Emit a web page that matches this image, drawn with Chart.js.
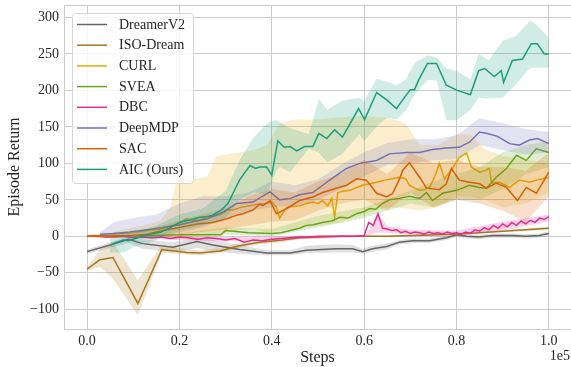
<!DOCTYPE html>
<html><head><meta charset="utf-8">
<script src="https://cdn.jsdelivr.net/npm/chart.js@4/dist/chart.umd.min.js"></script>
<style>html,body{margin:0;padding:0;background:#fff;} canvas{display:block;}</style>
</head><body>
<canvas id="c" width="571" height="367"></canvas>
<script>
const xTicks = [0, 0.2, 0.4, 0.6, 0.8, 1.0];
const yTicks = [-100, -50, 0, 50, 100, 150, 200, 250, 300];

const seriesNames = ['DreamerV2', 'ISO-Dream', 'CURL', 'SVEA', 'DBC', 'DeepMDP', 'SAC', 'AIC (Ours)'];
const seriesColors = ['#666666', '#a6761d', '#e6ab02', '#66a61e', '#e7298a', '#7570b3', '#d95f02', '#1b9e77'];

// DreamerV2
const dreamerSteps = [0,0.05,0.09,0.12,0.186,0.238,0.272,0.33,0.389,0.44,0.475,0.54,0.575,0.597,0.618,0.649,0.677,0.705,0.742,0.778,0.80,0.822,0.85,0.878,0.921,0.951,0.979,1.0];
const dreamerReturn = [-21,-12,-4,-10,-15,-7,-12,-18,-23,-23,-19,-17,-17,-21,-17,-14,-8,-6,-6,-2,2,0,-1,1,1,0,1,4];
const dreamerLow = [-24,-16,-9,-17,-22,-16,-20,-24,-26,-26,-23,-22,-22,-24,-21,-18,-11,-9,-9,-5,-1,-3,-4,-2,-2,-3,-2,0];
const dreamerHigh = [-18,-8,0,-4,-8,-2,-5,-12,-19,-19,-13,-11,-12,-17,-13,-10,-5,-3,-3,1,5,3,2,4,4,3,4,7];

// ISO-Dream
const isoSteps = [0,0.028,0.056,0.11,0.162,0.216,0.244,0.288,0.33,0.374,0.424,0.46,0.504,0.55,0.65,0.8,1.0];
const isoReturn = [-45,-32,-29,-92,-18,-22,-23,-20,-13,-8,-5,-2,-1,0,0,3,11];
const isoLow = [-47,-42,-58,-108,-22,-25,-26,-23,-16,-11,-8,-4,-3,-1,-1,2,9];
const isoHigh = [-43,-18,-8,-60,-12,-18,-19,-16,-9,-5,-2,1,1,1,1,4,13];

// CURL
const curlSteps = [0,0.05,0.1,0.13,0.16,0.18,0.2,0.215,0.23,0.244,0.26,0.272,0.29,0.303,0.316,0.335,0.352,0.37,0.389,0.4,0.41,0.417,0.432,0.446,0.46,0.475,0.489,0.5,0.51,0.521,0.53,0.536,0.543,0.556,0.569,0.584,0.597,0.612,0.627,0.645,0.662,0.677,0.69,0.698,0.71,0.72,0.73,0.742,0.755,0.763,0.774,0.785,0.791,0.806,0.822,0.832,0.85,0.862,0.871,0.876,0.893,0.915,0.936,0.958,0.979,1.0];
const curlReturn = [0,2,5,8,10,14,18,24,22,22,27,27,30,36,36,40,42,44,45,47,40,25,40,41,42,45,47,45,49,42,52,26,60,62,63,67,70,72,74,77,79,81,79,70,66,63,64,67,85,100,79,88,93,108,114,95,88,90,93,73,74,67,77,74,78,81];
const curlBandSteps = [0,0.05,0.1,0.13,0.16,0.18,0.195,0.23,0.26,0.28,0.3,0.33,0.36,0.39,0.417,0.45,0.5,0.54,0.6,0.65,0.69,0.72,0.76,0.8,0.83,0.86,0.9,0.95,1.0];
const curlLow = [-2,0,0,0,0,-3,-5,-2,0,3,5,8,10,5,8,10,15,18,30,40,38,35,40,55,55,50,40,45,60];
const curlHigh = [2,5,12,16,22,40,80,78,82,110,112,115,118,125,155,160,160,163,165,163,155,125,125,140,140,120,110,105,100];

// SVEA
const sveaSteps = [0,0.05,0.1,0.15,0.2,0.25,0.29,0.3,0.35,0.4,0.42,0.44,0.46,0.475,0.49,0.51,0.53,0.547,0.565,0.584,0.6,0.612,0.625,0.64,0.655,0.677,0.698,0.72,0.735,0.748,0.77,0.8,0.828,0.85,0.865,0.886,0.908,0.93,0.951,0.973,1.0];
const sveaReturn = [0,0,1,1,2,2,2,8,5,4,5,8,11,15,16,19,21,26,25,31,34,38,37,45,50,52,55,52,60,49,59,63,70,67,66,81,93,111,104,120,115];
const sveaBandSteps = [0,0.2,0.3,0.4,0.5,0.6,0.7,0.75,0.8,0.85,0.9,0.95,1.0];
const sveaLow = [-1,0,2,0,12,25,45,40,50,50,65,85,95];
const sveaHigh = [1,4,12,10,28,40,62,75,85,95,115,125,130];

// DBC
const dbcSteps = [0,0.02,0.04,0.06,0.08,0.1,0.12,0.14,0.16,0.18,0.2,0.22,0.24,0.26,0.28,0.3,0.32,0.34,0.36,0.38,0.4,0.42,0.44,0.46,0.48,0.5,0.52,0.54,0.56,0.58,0.6,0.61,0.62,0.63,0.64,0.65,0.66,0.67,0.68,0.69,0.7,0.71,0.72,0.73,0.74,0.75,0.76,0.77,0.78,0.79,0.8,0.81,0.82,0.83,0.84,0.85,0.86,0.87,0.88,0.89,0.9,0.91,0.92,0.93,0.94,0.95,0.96,0.97,0.98,0.99,1.0];
const dbcReturn = [0,0,-1,-1,0,-2,-1,-2,-1,-3,-1,-2,-4,-2,-3,-5,-3,-8,-5,-6,-4,-3,-2,-1,-1,0,0,0,0,0,1,19,15,31,11,10,8,9,5,7,4,6,5,3,6,4,5,3,6,4,5,3,6,4,9,7,12,9,15,11,17,13,19,15,21,17,22,19,25,23,27];
const dbcBandSteps = [0,0.3,0.6,0.605,0.63,0.65,0.7,0.8,0.9,1.0];
const dbcLow = [-1,-7,-1,0,5,5,2,2,8,20];
const dbcHigh = [1,-1,1,3,30,14,9,8,20,30];

// DeepMDP
const deepSteps = [0.028,0.056,0.093,0.13,0.164,0.2,0.222,0.26,0.294,0.324,0.359,0.396,0.417,0.44,0.46,0.489,0.51,0.532,0.562,0.59,0.627,0.655,0.692,0.72,0.748,0.778,0.806,0.828,0.85,0.867,0.889,0.915,0.936,0.958,0.975,1.0];
const deepReturn = [3,4,6,9,12,16,19,24,33,45,47,61,50,52,57,60,70,80,93,100,104,113,115,115,119,121,122,129,143,141,137,127,125,132,134,127];
const deepBandSteps = [0.028,0.06,0.1,0.15,0.2,0.25,0.3,0.35,0.4,0.45,0.5,0.55,0.6,0.65,0.7,0.75,0.8,0.85,0.9,0.95,1.0];
const deepLow = [0,0,0,2,5,12,25,35,40,42,50,65,82,98,100,104,106,125,118,112,115];
const deepHigh = [6,20,25,30,45,55,55,60,75,70,78,98,115,128,133,133,138,162,155,147,143];

// SAC
const sacSteps = [0,0.05,0.1,0.13,0.164,0.2,0.238,0.272,0.303,0.324,0.337,0.359,0.374,0.381,0.396,0.41,0.432,0.46,0.489,0.51,0.54,0.562,0.584,0.605,0.627,0.649,0.662,0.677,0.683,0.698,0.72,0.735,0.763,0.778,0.789,0.806,0.828,0.85,0.865,0.886,0.908,0.932,0.951,0.973,1.0];
const sacReturn = [0,0,1,3,8,12,17,19,24,29,31,36,44,42,49,31,38,49,54,60,66,70,79,77,59,54,59,79,90,101,81,66,64,72,93,77,74,72,66,73,67,49,67,59,88];
const sacBandSteps = [0,0.1,0.2,0.3,0.35,0.4,0.45,0.5,0.55,0.6,0.65,0.7,0.75,0.8,0.85,0.9,0.95,1.0];
const sacLow = [-1,-1,2,10,15,20,22,35,45,50,35,60,40,50,45,35,20,55];
const sacHigh = [1,3,22,38,55,65,60,75,85,105,85,115,100,105,95,95,90,115];

// AIC (Ours)
const aicSteps = [0.05,0.065,0.078,0.09,0.1,0.12,0.14,0.16,0.18,0.2,0.22,0.244,0.26,0.272,0.285,0.294,0.305,0.316,0.33,0.34,0.353,0.365,0.374,0.389,0.4,0.413,0.427,0.44,0.454,0.471,0.489,0.502,0.519,0.536,0.553,0.588,0.601,0.627,0.649,0.67,0.687,0.70,0.709,0.718,0.737,0.757,0.778,0.802,0.83,0.848,0.861,0.882,0.897,0.902,0.921,0.943,0.962,0.975,0.99,1.0];
const aicReturn = [-12,-8,-5,-6,-4,0,3,6,12,19,22,26,27,29,34,38,45,59,77,86,97,93,95,95,84,131,122,123,117,123,123,141,134,146,136,175,160,197,187,175,190,201,201,214,237,237,207,200,194,227,230,219,227,211,241,243,264,264,250,250];
const aicBandSteps = [0.05,0.08,0.1,0.15,0.2,0.25,0.3,0.33,0.36,0.39,0.41,0.417,0.44,0.48,0.502,0.52,0.553,0.59,0.6,0.627,0.649,0.67,0.69,0.71,0.737,0.757,0.778,0.8,0.83,0.848,0.87,0.9,0.93,0.96,0.98,1.0];
const aicLow = [-22,-22,-15,-5,8,15,25,50,60,58,90,95,88,120,115,101,113,140,131,150,163,160,172,195,214,214,159,159,173,190,189,190,209,231,231,231];
const aicHigh = [-2,5,5,15,30,38,62,104,135,155,160,156,148,140,189,173,186,190,185,216,212,207,215,238,248,245,230,227,215,250,241,268,275,296,286,271];

const series = [
  {steps: dreamerSteps, ret: dreamerReturn, bandSteps: dreamerSteps, lo: dreamerLow, hi: dreamerHigh},
  {steps: isoSteps, ret: isoReturn, bandSteps: isoSteps, lo: isoLow, hi: isoHigh},
  {steps: curlSteps, ret: curlReturn, bandSteps: curlBandSteps, lo: curlLow, hi: curlHigh},
  {steps: sveaSteps, ret: sveaReturn, bandSteps: sveaBandSteps, lo: sveaLow, hi: sveaHigh},
  {steps: dbcSteps, ret: dbcReturn, bandSteps: dbcBandSteps, lo: dbcLow, hi: dbcHigh},
  {steps: deepSteps, ret: deepReturn, bandSteps: deepBandSteps, lo: deepLow, hi: deepHigh},
  {steps: sacSteps, ret: sacReturn, bandSteps: sacBandSteps, lo: sacLow, hi: sacHigh},
  {steps: aicSteps, ret: aicReturn, bandSteps: aicBandSteps, lo: aicLow, hi: aicHigh}
];

function pts(xs, ys) { return xs.map((x, i) => ({x: x, y: ys[i]})); }
function rgba(hex, a) {
  const n = parseInt(hex.slice(1), 16);
  return 'rgba(' + ((n >> 16) & 255) + ',' + ((n >> 8) & 255) + ',' + (n & 255) + ',' + a + ')';
}

const datasets = [];
series.forEach((s, i) => {
  const c = seriesColors[i];
  const base = datasets.length;
  datasets.push({label: seriesNames[i] + ' low', data: pts(s.bandSteps, s.lo), borderWidth: 0, borderColor: 'transparent', pointRadius: 0, fill: false, order: 100 - 10 * i + 5});
  datasets.push({label: seriesNames[i] + ' high', data: pts(s.bandSteps, s.hi), borderWidth: 0, borderColor: 'transparent', pointRadius: 0,
    fill: {target: base, above: rgba(c, 0.2), below: rgba(c, 0.2)}, backgroundColor: rgba(c, 0.2), order: 100 - 10 * i + 5});
  datasets.push({label: seriesNames[i], data: pts(s.steps, s.ret), borderColor: c, borderWidth: 1.5, pointRadius: 0, fill: false, order: 100 - 10 * i});
});

const FONT = 'Liberation Serif';
const TXT = '#262626';

const extras = {
  id: 'extras',
  afterDatasetsDraw(chart) {
    const ctx = chart.ctx, a = chart.chartArea;
    ctx.save();
    ctx.strokeStyle = '#cccccc';
    ctx.lineWidth = 1;
    ctx.beginPath();
    ctx.moveTo(a.left, a.top + 0.5);
    ctx.lineTo(a.right, a.top + 0.5);
    ctx.stroke();
    ctx.restore();
  },
  afterDraw(chart) {
    const ctx = chart.ctx;
    ctx.save();
    const x0 = 72.5, y0 = 13.5, w = 121, h = 170, r = 3;
    ctx.beginPath();
    ctx.moveTo(x0 + r, y0);
    ctx.lineTo(x0 + w - r, y0); ctx.arcTo(x0 + w, y0, x0 + w, y0 + r, r);
    ctx.lineTo(x0 + w, y0 + h - r); ctx.arcTo(x0 + w, y0 + h, x0 + w - r, y0 + h, r);
    ctx.lineTo(x0 + r, y0 + h); ctx.arcTo(x0, y0 + h, x0, y0 + h - r, r);
    ctx.lineTo(x0, y0 + r); ctx.arcTo(x0, y0, x0 + r, y0, r);
    ctx.closePath();
    ctx.fillStyle = 'rgba(255,255,255,0.8)';
    ctx.fill();
    ctx.strokeStyle = '#d6d6d6';
    ctx.lineWidth = 1;
    ctx.stroke();
    ctx.font = '14px "' + FONT + '"';
    ctx.textBaseline = 'middle';
    ctx.textAlign = 'left';
    seriesNames.forEach((n, i) => {
      const y = 24.5 + i * 20.7;
      ctx.strokeStyle = seriesColors[i];
      ctx.lineWidth = 1.5;
      ctx.beginPath();
      ctx.moveTo(77, y); ctx.lineTo(107, y);
      ctx.stroke();
      ctx.fillStyle = TXT;
      ctx.fillText(n, 119, y + 0.5);
    });
    ctx.textAlign = 'right';
    ctx.fillText('1e5', 570, 356);
    ctx.restore();
  }
};

new Chart(document.getElementById('c'), {
  type: 'line',
  data: {datasets: datasets},
  options: {
    responsive: false,
    animation: false,
    devicePixelRatio: 1,
    layout: {padding: {top: 5, right: 0, left: 0, bottom: 0}},
    plugins: {legend: {display: false}, tooltip: {enabled: false}},
    elements: {line: {tension: 0}, point: {radius: 0}},
    scales: {
      x: {
        type: 'linear', min: -0.05, max: 1.048,
        afterBuildTicks: s => { s.ticks = xTicks.map(v => ({value: v})); },
        afterFit: s => { s.height = 38; s.paddingLeft = 0; s.paddingRight = 0; },
        ticks: {callback: v => Number(v).toFixed(1), font: {family: FONT, size: 14}, color: TXT, padding: 4, maxRotation: 0, autoSkip: false},
        grid: {color: '#cccccc', lineWidth: 1, drawTicks: false},
        border: {color: '#cccccc', width: 1},
        title: {display: true, text: 'Steps', font: {family: FONT, size: 16}, color: TXT, padding: {top: 0, bottom: 0}}
      },
      y: {
        min: -127, max: 317,
        afterBuildTicks: s => { s.ticks = yTicks.map(v => ({value: v})); },
        afterFit: s => { s.width = 64; s.paddingTop = 0; s.paddingBottom = 0; },
        ticks: {callback: v => v < 0 ? '\u2212' + Math.abs(v) : String(v), font: {family: FONT, size: 14}, color: TXT, padding: 5, autoSkip: false},
        grid: {color: '#cccccc', lineWidth: 1, drawTicks: false},
        border: {color: '#cccccc', width: 1},
        title: {display: true, text: 'Episode Return', font: {family: FONT, size: 16}, color: TXT, padding: {top: 5, bottom: 0}}
      }
    }
  },
  plugins: [extras]
});
</script>
</body></html>
